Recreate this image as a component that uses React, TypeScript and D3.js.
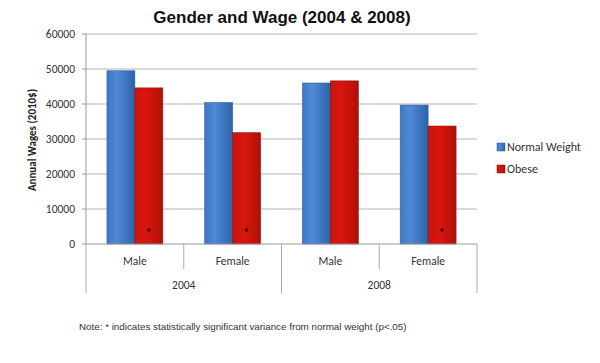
import React from "react";
import * as d3 from "d3";

// 資料
const years = ["2004", "2008"];
const genders = ["Male", "Female"];
const series = ["Normal Weight", "Obese"];
const normalWeight = [49500, 40400, 46000, 39700];
const obese = [44600, 31800, 46600, 33700];
const significant = [true, true, false, true]; // 肥胖組是否顯著
const yTicks = [0, 10000, 20000, 30000, 40000, 50000, 60000];

const W = 600;
const H = 363;
const plot = { left: 86, right: 477, top: 34, bottom: 244 };

const App = () => {
  const groups = years.flatMap((yr) => genders.map((g) => `${yr}-${g}`));
  const x = d3.scaleBand().domain(groups).range([plot.left, plot.right]).paddingInner(0).paddingOuter(0);
  const inner = d3.scaleBand().domain(series).range([0, x.bandwidth()]).paddingOuter(0.75).paddingInner(0);
  const y = d3.scaleLinear().domain([0, 60000]).range([plot.bottom, plot.top]);
  const yearX = d3.scaleBand().domain(years).range([plot.left, plot.right]);
  const values = [normalWeight, obese];
  const fills = ["url(#gBlue)", "url(#gRed)"];
  const strokes = ["#2f5f9e", "#8e1008"];

  return (
    <svg width={W} height={H} style={{ position: "absolute", left: 0, top: 0, background: "#fff" }}>
      <defs>
        <linearGradient id="gBlue" x1="0" x2="1" y1="0" y2="0">
          <stop offset="0" stopColor="#3f76c2" />
          <stop offset="0.35" stopColor="#4f8ad8" />
          <stop offset="1" stopColor="#2e62a8" />
        </linearGradient>
        <linearGradient id="gRed" x1="0" x2="1" y1="0" y2="0">
          <stop offset="0" stopColor="#c8140c" />
          <stop offset="0.4" stopColor="#d8170e" />
          <stop offset="1" stopColor="#b01008" />
        </linearGradient>
      </defs>

      <text x={282} y={23} textAnchor="middle" fontFamily="Liberation Sans, Arial, sans-serif" fontWeight="bold" fontSize={17} fill="#111">
        Gender and Wage (2004 &amp; 2008)
      </text>

      {/* 格線與Y軸刻度 */}
      {yTicks.map((t) => (
        <g key={t}>
          {t > 0 && <line x1={plot.left} x2={plot.right} y1={y(t)} y2={y(t)} stroke="#b4b4b4" strokeWidth={1} />}
          <line x1={plot.left - 4} x2={plot.left} y1={y(t)} y2={y(t)} stroke="#999" />
          <text x={plot.left - 11} y={y(t) + 4} textAnchor="end" fontFamily="Carlito, Liberation Sans, sans-serif" fontSize={11.5} fill="#333">
            {t}
          </text>
        </g>
      ))}
      <line x1={plot.left} x2={plot.left} y1={plot.top} y2={plot.bottom} stroke="#999" />

      {/* 長條 */}
      {groups.map((g, i) =>
        series.map((s, j) => {
          const v = values[j][i];
          const bx = (x(g) ?? 0) + (inner(s) ?? 0);
          return (
            <rect key={g + s} x={bx} y={y(v)} width={inner.bandwidth()} height={y(0) - y(v)} fill={fills[j]} stroke={strokes[j]} strokeWidth={0.6} />
          );
        })
      )}
      {/* 顯著標記 */}
      {groups.map((g, i) =>
        significant[i] ? (
          <circle key={"s" + g} cx={(x(g) ?? 0) + (inner("Obese") ?? 0) + inner.bandwidth() / 2} cy={230} r={1.8} fill="#3a0000" />
        ) : null
      )}

      {/* X軸 */}
      <line x1={plot.left} x2={plot.right} y1={plot.bottom} y2={plot.bottom} stroke="#999" />
      {groups.map((g, i) => (
        <g key={"x" + g}>
          <line x1={x(g)} x2={x(g)} y1={plot.bottom} y2={i % 2 === 0 ? 293 : 269} stroke="#aaa" />
          <text x={(x(g) ?? 0) + x.bandwidth() / 2} y={265} textAnchor="middle" fontFamily="Carlito, Liberation Sans, sans-serif" fontSize={11.5} fill="#333">
            {g.split("-")[1]}
          </text>
        </g>
      ))}
      <line x1={plot.right} x2={plot.right} y1={plot.bottom} y2={293} stroke="#aaa" />
      {years.map((yr) => (
        <text key={yr} x={(yearX(yr) ?? 0) + yearX.bandwidth() / 2} y={289} textAnchor="middle" fontFamily="Carlito, Liberation Sans, sans-serif" fontSize={11.5} fill="#333">
          {yr}
        </text>
      ))}

      {/* Y軸標題 */}
      <text transform="translate(36,140) rotate(-90)" textAnchor="middle" fontFamily="Carlito, Liberation Sans, sans-serif" fontWeight="bold" fontSize={11} fill="#222">
        Annual Wages (2010$)
      </text>

      {/* 圖例 */}
      {series.map((s, j) => (
        <g key={s} transform={`translate(497,${147 + j * 22})`}>
          <rect x={0} y={-4} width={8} height={8} fill={fills[j]} stroke={strokes[j]} strokeWidth={0.5} />
          <text x={10} y={4} fontFamily="Carlito, Liberation Sans, sans-serif" fontSize={12} fill="#333">
            {s}
          </text>
        </g>
      ))}

      <text x={79} y={330} fontFamily="Liberation Sans, Arial, sans-serif" fontSize={9.8} fill="#333">
        Note: * indicates statistically significant variance from normal weight (p&lt;.05)
      </text>
    </svg>
  );
};

export default App;
